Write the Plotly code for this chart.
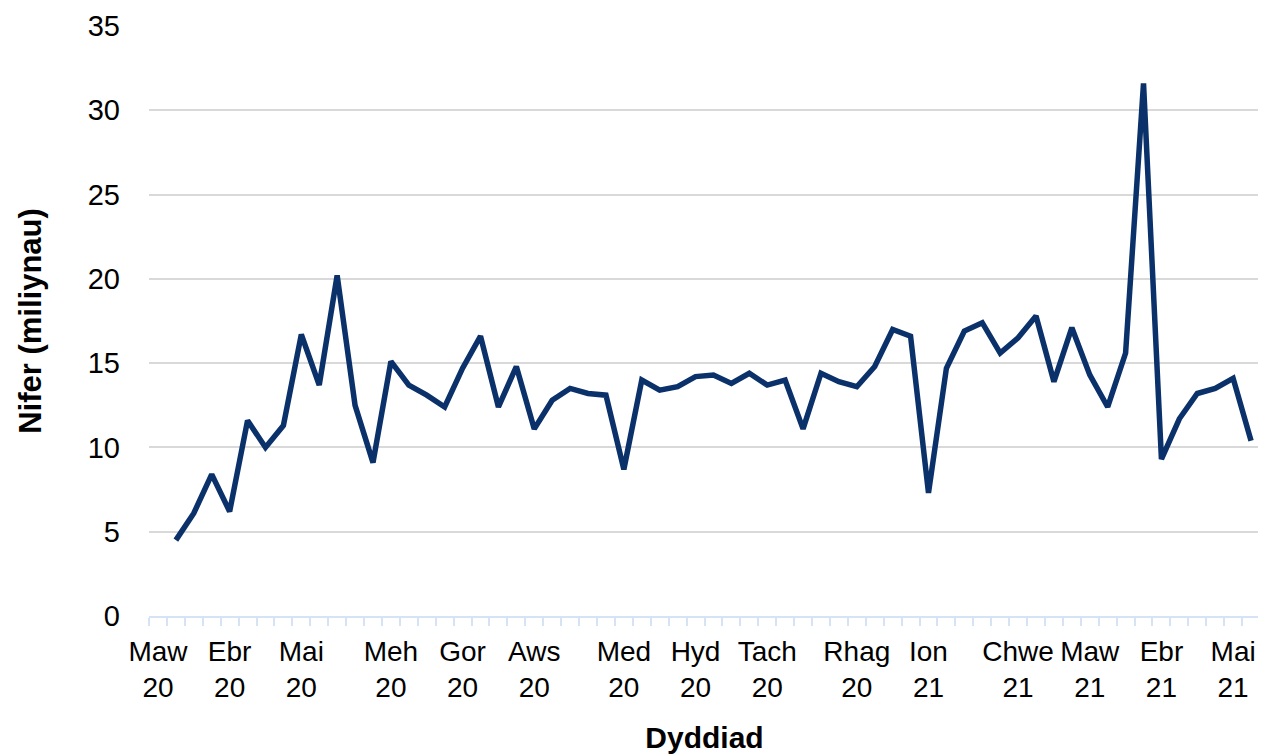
import plotly.graph_objects as go

# Weekly values (millions); first week has no value
week_index = list(range(62))
values = [None,
          4.5, 6.1, 8.4, 6.2, 11.6, 10.0, 11.3, 16.7, 13.7, 20.2,
          12.5, 9.1, 15.1, 13.7, 13.1, 12.4, 14.7, 16.6, 12.4, 14.8,
          11.1, 12.8, 13.5, 13.2, 13.1, 8.7, 14.0, 13.4, 13.6, 14.2,
          14.3, 13.8, 14.4, 13.7, 14.0, 11.1, 14.4, 13.9, 13.6, 14.8,
          17.0, 16.6, 7.3, 14.7, 16.9, 17.4, 15.6, 16.5, 17.8, 13.9,
          17.1, 14.3, 12.4, 15.6, 31.6, 9.3, 11.7, 13.2, 13.5, 14.1,
          10.4]

tick_idx = [0, 4, 8, 13, 17, 21, 26, 30, 34, 39, 43, 48, 52, 56, 60]
tick_text = ["Maw<br>20", "Ebr<br>20", "Mai<br>20", "Meh<br>20", "Gor<br>20",
             "Aws<br>20", "Med<br>20", "Hyd<br>20", "Tach<br>20", "Rhag<br>20",
             "Ion<br>21", "Chwe<br>21", "Maw<br>21", "Ebr<br>21", "Mai<br>21"]

y_ticks = [0, 5, 10, 15, 20, 25, 30, 35]

fig = go.Figure()
fig.add_trace(go.Scatter(
    x=week_index, y=values, mode="lines",
    line=dict(color="#0B316B", width=5.5),
    connectgaps=False, hoverinfo="skip", showlegend=False,
))

font_family = "Liberation Sans, Arial, sans-serif"

fig.update_layout(
    width=1258, height=746,
    margin=dict(l=141, r=6, t=18, b=138),
    paper_bgcolor="white", plot_bgcolor="white",
    font=dict(family=font_family, color="#000000", size=28),
    showlegend=False,
)

fig.update_xaxes(
    range=[-0.5, 61.5],
    tickmode="array", tickvals=tick_idx, ticktext=tick_text,
    ticks="", showgrid=False,
    tickfont=dict(size=28, color="#000000"),
    ticklabelstandoff=9,
    showline=True, linecolor="#D6E2F5", linewidth=2,
    minor=dict(tickmode="linear", tick0=-0.5, dtick=1, ticks="outside",
               ticklen=8, tickcolor="#D6E2F5", tickwidth=1.5, showgrid=False),
    zeroline=False,
    automargin=False,
    title=dict(text="<b>Dyddiad</b>", font=dict(size=30, color="#000000"), standoff=29),
)

fig.update_yaxes(
    range=[0, 35],
    tickmode="array", tickvals=y_ticks,
    showgrid=True, gridcolor="#D9D9D9", gridwidth=1.5,
    zeroline=False, showline=False,
    tickfont=dict(size=29, color="#000000"),
    ticklabelstandoff=28,
    automargin=False,
    title=dict(text="<b>Nifer (miliynau)</b>", font=dict(size=31, color="#000000"), standoff=36),
)

fig.write_html("out.html")
